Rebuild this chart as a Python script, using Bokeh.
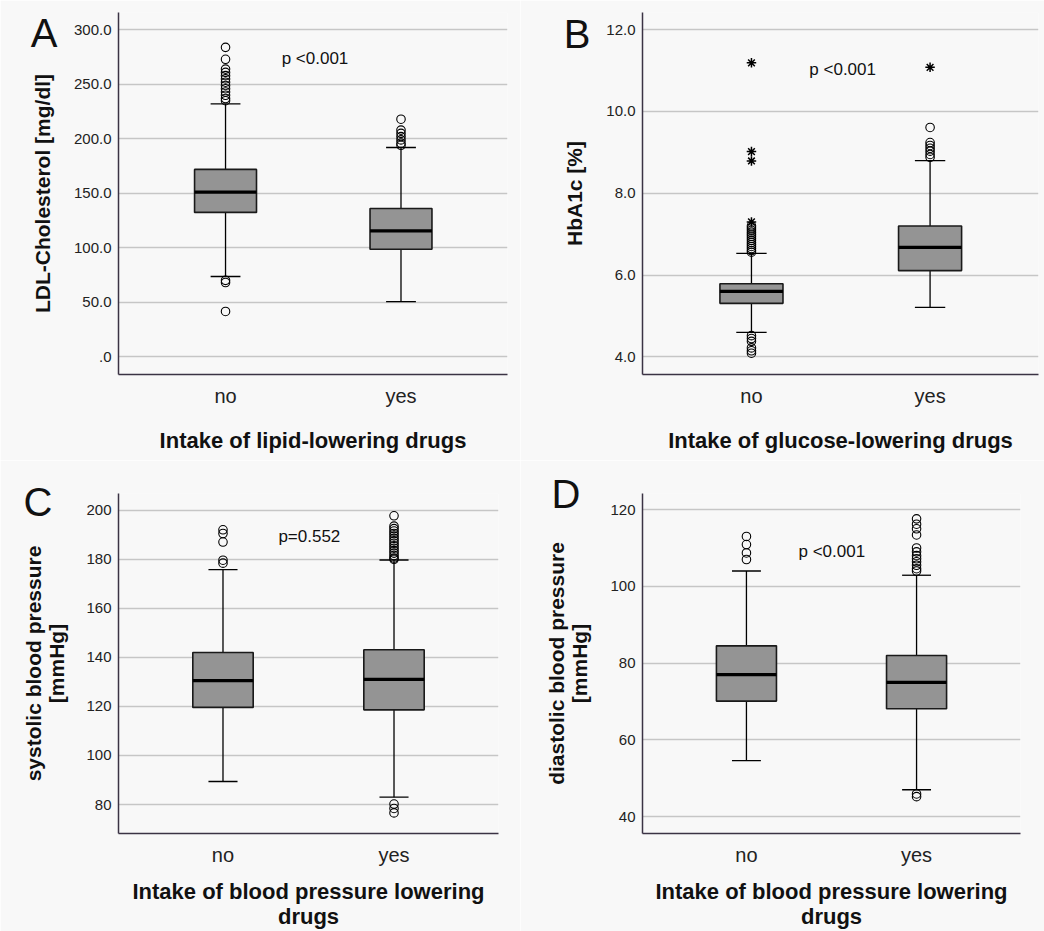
from bokeh.plotting import figure
from bokeh.models import Range1d, FixedTicker, Label, LinearAxis
from bokeh.layouts import column, row
from bokeh.embed import file_html
from bokeh.resources import INLINE

FONT = "Liberation Sans"
BG = "#f8f8f8"
AXIS_COLOR = "#3b3344"
BOX_FILL = "#949494"

categories = ["no", "yes"]
positions = [1, 2]

# Panel A: LDL-Cholesterol
ldl_q1 = [132.4, 98.6]
ldl_median = [151.0, 115.5]
ldl_q3 = [171.9, 136.0]
ldl_lower = [73.5, 50.5]
ldl_upper = [232.0, 192.0]
ldl_out_no = [284, 273, 264, 261, 258, 255, 252, 249, 246, 243, 240, 237, 235, 70, 68, 41.4]
ldl_out_yes = [218, 208, 205, 202, 199, 196, 194]
ldl_ticks = [0, 50, 100, 150, 200, 250, 300]
ldl_tick_labels = [".0", "50.0", "100.0", "150.0", "200.0", "250.0", "300.0"]

# Panel B: HbA1c
hba_q1 = [5.31, 6.11]
hba_median = [5.60, 6.68]
hba_q3 = [5.79, 7.20]
hba_lower = [4.60, 5.21]
hba_upper = [6.53, 8.80]
hba_out_no = [7.2, 7.15, 7.1, 7.05, 7.0, 6.95, 6.9, 6.85, 6.8, 6.75, 6.7, 6.65, 6.6, 6.56,
              4.52, 4.45, 4.38, 4.22, 4.15, 4.09]
hba_out_yes = [9.61, 9.24, 9.17, 9.1, 9.03, 8.95, 8.88]
hba_star_no = [11.19, 9.02, 8.79, 7.3]
hba_star_yes = [11.08]
hba_ticks = [4, 6, 8, 10, 12]
hba_tick_labels = ["4.0", "6.0", "8.0", "10.0", "12.0"]

# Panel C: systolic blood pressure
sys_q1 = [119.6, 118.6]
sys_median = [130.5, 131.0]
sys_q3 = [142.0, 143.1]
sys_lower = [89.4, 83.0]
sys_upper = [175.8, 179.7]
sys_out_no = [192.0, 190.5, 187.0, 179.6, 178.4]
sys_out_yes = [197.7, 193.5, 192.5, 191.5, 190.5, 189.5, 188.5, 187.5, 186.5, 185.5, 184.5,
               183.5, 182.5, 181.5, 180.5, 180.0, 80.2, 78.4, 76.6]
sys_ticks = [80, 100, 120, 140, 160, 180, 200]
sys_tick_labels = ["80", "100", "120", "140", "160", "180", "200"]

# Panel D: diastolic blood pressure
dia_q1 = [70.1, 68.1]
dia_median = [77.0, 75.0]
dia_q3 = [84.5, 82.0]
dia_lower = [54.6, 47.0]
dia_upper = [104.0, 102.9]
dia_out_no = [113.0, 110.9, 108.7, 107.0]
dia_out_yes = [117.6, 116.2, 115.0, 113.4, 110.0, 109.0, 108.0, 107.2, 106.4, 105.5, 104.6,
               104.0, 45.9, 45.2]
dia_ticks = [40, 60, 80, 100, 120]
dia_tick_labels = ["40", "60", "80", "100", "120"]

BOX_W = 0.353
CAP_W = 0.17


def make_panel(letter, q1, med, q3, lo, hi, out_no, out_yes, star_no, star_yes,
               ticks, tick_labels, yrange, xrange, ylabel, xlabel, ptext, ppos,
               width, height, borders, ylabel_standoff, xlabel_standoff,
               letter_y, letter_standoff):
    bl, br, bt, bb = borders
    p = figure(width=width, height=height, x_range=Range1d(*xrange), y_range=Range1d(*yrange),
               output_backend="svg", toolbar_location=None,
               min_border_left=bl, min_border_right=br, min_border_top=bt, min_border_bottom=bb,
               background_fill_color=BG, border_fill_color=BG, outline_line_color=None)

    x0 = [x - BOX_W / 2 for x in positions]
    x1 = [x + BOX_W / 2 for x in positions]
    c0 = [x - CAP_W / 2 for x in positions]
    c1 = [x + CAP_W / 2 for x in positions]

    # whiskers
    p.segment(x0=positions, y0=q3, x1=positions, y1=hi, line_color="black", line_width=1.3)
    p.segment(x0=positions, y0=q1, x1=positions, y1=lo, line_color="black", line_width=1.3)
    p.segment(x0=c0, y0=hi, x1=c1, y1=hi, line_color="black", line_width=1.3)
    p.segment(x0=c0, y0=lo, x1=c1, y1=lo, line_color="black", line_width=1.3)
    # boxes
    p.vbar(x=positions, width=BOX_W, bottom=q1, top=q3, fill_color=BOX_FILL,
           line_color="#1a1a1a", line_width=1.6)
    p.segment(x0=x0, y0=med, x1=x1, y1=med, line_color="black", line_width=3.2)
    # outliers
    for pos, vals in ((positions[0], out_no), (positions[1], out_yes)):
        if vals:
            p.scatter(x=[pos] * len(vals), y=vals, marker="circle", size=8.5, fill_alpha=0,
                      line_color="black", line_width=1.1)
    for pos, vals in ((positions[0], star_no), (positions[1], star_yes)):
        if vals:
            p.scatter(x=[pos] * len(vals), y=vals, marker="asterisk", size=9.5,
                      line_color="black", line_width=1.5)

    # axes
    p.xgrid.visible = False
    p.ygrid.grid_line_color = "#c6c6c6"
    p.ygrid.grid_line_width = 1.3
    xax = p.xaxis[0]
    yax = p.yaxis[0]
    xax.ticker = FixedTicker(ticks=positions)
    xax.major_label_overrides = {pos: c for pos, c in zip(positions, categories)}
    yax.ticker = FixedTicker(ticks=ticks)
    yax.major_label_overrides = {t: s for t, s in zip(ticks, tick_labels)}
    for ax in (xax, yax):
        ax.axis_line_color = AXIS_COLOR
        ax.axis_line_width = 1.5
        ax.major_tick_line_color = None
        ax.minor_tick_line_color = None
        ax.major_tick_out = 0
        ax.major_tick_in = 0
        ax.minor_tick_out = 0
        ax.major_label_text_font = FONT
        ax.major_label_text_color = "#222222"
        ax.axis_label_text_font = FONT
        ax.axis_label_text_font_style = "bold"
        ax.axis_label_text_color = "#111111"
        ax.axis_label_text_line_height = 1.0
    yax.axis_label_text_font_size = "21px"
    xax.axis_label_text_font_size = "22px"
    yax.major_label_text_font_size = "15px"
    yax.major_label_standoff = 7
    yax.axis_label = ylabel
    yax.axis_label_standoff = ylabel_standoff
    xax.major_label_text_font_size = "20px"
    xax.major_label_standoff = 10
    xax.axis_label = xlabel
    xax.axis_label_standoff = xlabel_standoff

    # panel letter, drawn as the only tick label of a bare axis in figure-pixel units
    frame_top = bt
    frame_bottom = height - bb
    p.extra_y_ranges = {"letter": Range1d(frame_bottom, frame_top)}
    lax = LinearAxis(y_range_name="letter", ticker=FixedTicker(ticks=[letter_y]),
                     major_label_overrides={letter_y: letter})
    lax.axis_line_color = None
    lax.major_tick_line_color = None
    lax.minor_tick_line_color = None
    lax.major_tick_out = 0
    lax.major_tick_in = 0
    lax.minor_tick_out = 0
    lax.major_label_standoff = letter_standoff
    lax.major_label_text_font = FONT
    lax.major_label_text_font_size = "40px"
    lax.major_label_text_color = "#111111"
    p.add_layout(lax, "left")

    p.add_layout(Label(x=ppos[0], y=ppos[1], text=ptext, text_font=FONT, text_font_size="17px",
                       text_align="left", text_baseline="middle", text_color="#111111"))
    return p


pA = make_panel("A", ldl_q1, ldl_median, ldl_q3, ldl_lower, ldl_upper, ldl_out_no, ldl_out_yes,
                [], [], ldl_ticks, ldl_tick_labels, (-16.5, 316), (0.39, 2.607),
                "LDL-Cholesterol [mg/dl]", "Intake of lipid-lowering drugs", "p <0.001",
                (1.32, 273.6), 520, 460, (118, 13, 12, 86), 17, 18, 32, -30)
pB = make_panel("B", hba_q1, hba_median, hba_q3, hba_lower, hba_upper, hba_out_no, hba_out_yes,
                hba_star_no, hba_star_yes, hba_ticks, hba_tick_labels, (3.57, 12.42), (0.39, 2.607),
                "HbA1c [%]", "Intake of glucose-lowering drugs", "p <0.001",
                (1.324, 11.03), 524, 460, (122, 6, 12, 86), 17, 18, 33, -30)
pC = make_panel("C", sys_q1, sys_median, sys_q3, sys_lower, sys_upper, sys_out_no, sys_out_yes,
                [], [], sys_ticks, sys_tick_labels, (68.2, 206.8), (0.389, 2.611),
                "systolic blood pressure\n[mmHg]", "Intake of blood pressure lowering\ndrugs",
                "p=0.552", (1.324, 189.4), 520, 471, (118, 22, 33, 98), 15, 10, 41, -33)
pD = make_panel("D", dia_q1, dia_median, dia_q3, dia_lower, dia_upper, dia_out_no, dia_out_yes,
                [], [], dia_ticks, dia_tick_labels, (35.6, 124.2), (0.389, 2.611),
                "diastolic blood pressure\n[mmHg]", "Intake of blood pressure lowering\ndrugs",
                "p <0.001", (1.306, 109.2), 524, 471, (122, 24, 33, 98), 16, 10, 33.5, -38)

layout = column(row(pA, pB), row(pC, pD))
open("out.html", "w").write(file_html(layout, INLINE))
